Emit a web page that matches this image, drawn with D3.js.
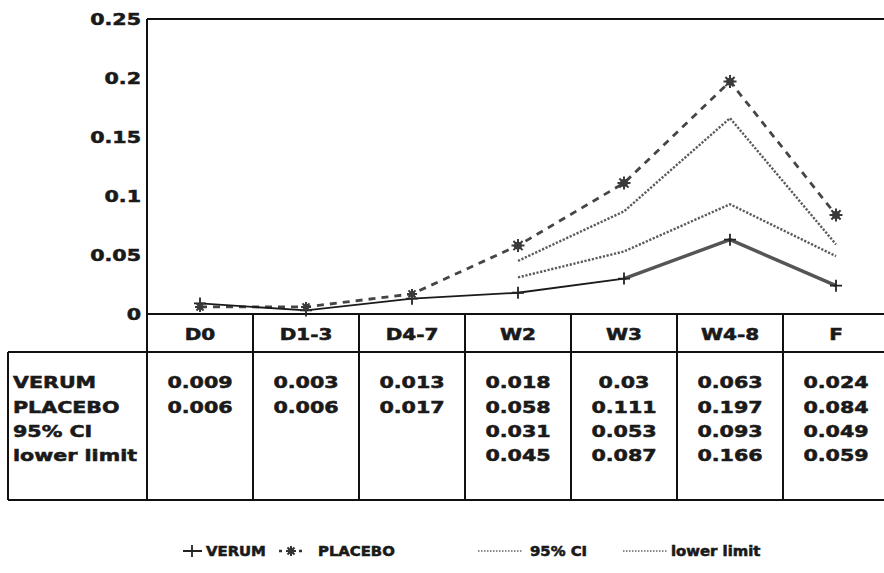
<!DOCTYPE html>
<html>
<head>
<meta charset="utf-8">
<script src="https://cdn.jsdelivr.net/npm/d3@7"></script>
<style>
  html, body { margin: 0; padding: 0; background: #fff; }
  svg { display: block; }
  text { font-family: "DejaVu Sans", sans-serif; font-weight: bold; fill: #1a1a1a; stroke: #1a1a1a; stroke-width: 0.55px; }
</style>
</head>
<body>
<svg id="chart" width="884" height="573"></svg>
<script>
// Periods (days, weeks, follow-up)
const periods = ["D0", "D1-3", "D4-7", "W2", "W3", "W4-8", "F"];

// Series values per period (null = not measured)
const verum      = [0.009, 0.003, 0.013, 0.018, 0.03, 0.063, 0.024];
const placebo    = [0.006, 0.006, 0.017, 0.058, 0.111, 0.197, 0.084];
const ci95       = [null, null, null, 0.031, 0.053, 0.093, 0.049];
const lowerLimit = [null, null, null, 0.045, 0.087, 0.166, 0.059];

// Value-table labels as printed
const verumLabels   = ["0.009", "0.003", "0.013", "0.018", "0.03", "0.063", "0.024"];
const placeboLabels = ["0.006", "0.006", "0.017", "0.058", "0.111", "0.197", "0.084"];
const ciLabels      = ["", "", "", "0.031", "0.053", "0.093", "0.049"];
const lowerLabels   = ["", "", "", "0.045", "0.087", "0.166", "0.059"];

const rowNames = ["VERUM", "PLACEBO", "95% CI", "lower limit"];

// Y axis ticks
const yTicks = [0, 0.05, 0.1, 0.15, 0.2, 0.25];
const yTickLabels = ["0", "0.05", "0.1", "0.15", "0.2", "0.25"];

// Legend entries
const legendNames = ["VERUM", "PLACEBO", "95% CI", "lower limit"];

const svg = d3.select("#chart");
const plotLeft = 147, plotRight = 889, plotTop = 19, plotBottom = 314;
const headerBottom = 352, tableBottom = 500, tableLeft = 8;
const SX = 1.25; // wide letterforms

const x = d3.scaleBand().domain(periods).range([plotLeft, plotRight]);
const y = d3.scaleLinear().domain([0, 0.25]).range([plotBottom, plotTop]);
const cx = d => x(d) + x.bandwidth() / 2;

function wideText(g, tx, ty, str, size, anchor, sx) {
  return g.append("text")
    .attr("transform", `translate(${tx},${ty}) scale(${sx},1)`)
    .attr("text-anchor", anchor)
    .attr("dominant-baseline", "central")
    .attr("font-size", size)
    .text(str);
}

// Asterisk marker: small filled core with radiating spokes
function asterisk(g, px, py, r, color) {
  const m = g.append("g").attr("transform", `translate(${px},${py})`);
  m.append("circle").attr("r", r * 0.6).attr("fill", color);
  let d = "";
  for (let k = 0; k < 4; k++) {
    const a = k * Math.PI / 4;
    d += `M${-r * Math.cos(a)},${-r * Math.sin(a)}L${r * Math.cos(a)},${r * Math.sin(a)}`;
  }
  m.append("path").attr("d", d).attr("stroke", color).attr("stroke-width", 2).attr("fill", "none");
  return m;
}

// ---- Frame & table grid ----
const frame = svg.append("g").attr("stroke", "#111").attr("stroke-width", 2).attr("fill", "none");
frame.append("line").attr("x1", plotLeft).attr("x2", plotRight).attr("y1", plotTop).attr("y2", plotTop);
frame.append("line").attr("x1", plotLeft).attr("x2", plotLeft).attr("y1", plotTop).attr("y2", tableBottom);
frame.append("line").attr("x1", plotLeft).attr("x2", plotRight).attr("y1", plotBottom).attr("y2", plotBottom);
frame.append("line").attr("x1", tableLeft).attr("x2", plotRight).attr("y1", headerBottom).attr("y2", headerBottom);
frame.append("line").attr("x1", tableLeft).attr("x2", plotRight).attr("y1", tableBottom).attr("y2", tableBottom);
frame.append("line").attr("x1", tableLeft).attr("x2", tableLeft).attr("y1", headerBottom).attr("y2", tableBottom);
frame.selectAll(".col").data(periods.slice(1)).enter().append("line")
  .attr("x1", d => x(d)).attr("x2", d => x(d))
  .attr("y1", plotBottom).attr("y2", tableBottom);

// ---- Y axis labels ----
const yAxis = svg.append("g");
yTicks.forEach((t, i) => wideText(yAxis, 141, y(t), yTickLabels[i], 16.5, "end", SX));

// ---- Header row ----
const header = svg.append("g");
periods.forEach(p => wideText(header, cx(p), 334, p, 16, "middle", SX));

// ---- Table body ----
const rowY = [382, 407, 431, 455];
const body = svg.append("g");
rowNames.forEach((r, i) => wideText(body, 13, rowY[i], r, 16.5, "start", SX));
[verumLabels, placeboLabels, ciLabels, lowerLabels].forEach((labels, i) => {
  periods.forEach((p, j) => { if (labels[j]) wideText(body, cx(p), rowY[i], labels[j], 16.5, "middle", SX); });
});

// ---- Lines ----
const pts = vals => periods.map((p, i) => ({ p, v: vals[i] })).filter(d => d.v != null);
const line = d3.line().x(d => cx(d.p)).y(d => y(d.v));
const plot = svg.append("g").attr("fill", "none");

// Confidence band limits: dotted
[ci95, lowerLimit].forEach(vals => {
  plot.append("path").attr("d", line(pts(vals)))
    .attr("stroke", "#5a5a5a").attr("stroke-width", 2.4)
    .attr("stroke-dasharray", "2.2,1.6");
});

// Placebo: dashed
plot.append("path").attr("d", line(pts(placebo)))
  .attr("stroke", "#454545").attr("stroke-width", 2.8).attr("stroke-dasharray", "7,6");

// Verum: solid, heavier over the later weeks
plot.append("path").attr("d", line(pts(verum)))
  .attr("stroke", "#1a1a1a").attr("stroke-width", 1.8);
plot.append("path").attr("d", line(pts(verum).slice(4)))
  .attr("stroke", "#555").attr("stroke-width", 3.4);

// Verum markers: plus
plot.selectAll(".vm").data(pts(verum)).enter().append("path")
  .attr("d", d => `M${cx(d.p) - 6},${y(d.v)}h12M${cx(d.p)},${y(d.v) - 6}v12`)
  .attr("stroke", "#222").attr("stroke-width", 1.8);

// Placebo markers: asterisks
pts(placebo).forEach(d => asterisk(plot, cx(d.p), y(d.v), d.v > 0.05 ? 6.5 : 5, "#3a3a3a"));

// ---- Legend ----
const lg = svg.append("g");
const ly = 551;
// VERUM
lg.append("path").attr("d", `M183,${ly}h19M192,${ly - 6}v12`).attr("stroke", "#222").attr("stroke-width", 1.8).attr("fill", "none");
wideText(lg, 206, ly, legendNames[0], 13.5, "start", 1.1);
// PLACEBO
lg.append("path").attr("d", `M279,${ly}h3M299,${ly}h3`).attr("stroke", "#333").attr("stroke-width", 2.4).attr("fill", "none");
asterisk(lg, 291, ly, 5, "#333");
wideText(lg, 318, ly, legendNames[1], 13.5, "start", 1.1);
// 95% CI
lg.append("path").attr("d", `M478,${ly}h44`).attr("stroke", "#666").attr("stroke-width", 1.5).attr("stroke-dasharray", "1.5,1.5");
wideText(lg, 530, ly, legendNames[2], 13.5, "start", 1.1);
// lower limit
lg.append("path").attr("d", `M623,${ly}h44`).attr("stroke", "#666").attr("stroke-width", 1.5).attr("stroke-dasharray", "1.5,1.5");
wideText(lg, 671, ly, legendNames[3], 13.5, "start", 1.1);
</script>
</body>
</html>
